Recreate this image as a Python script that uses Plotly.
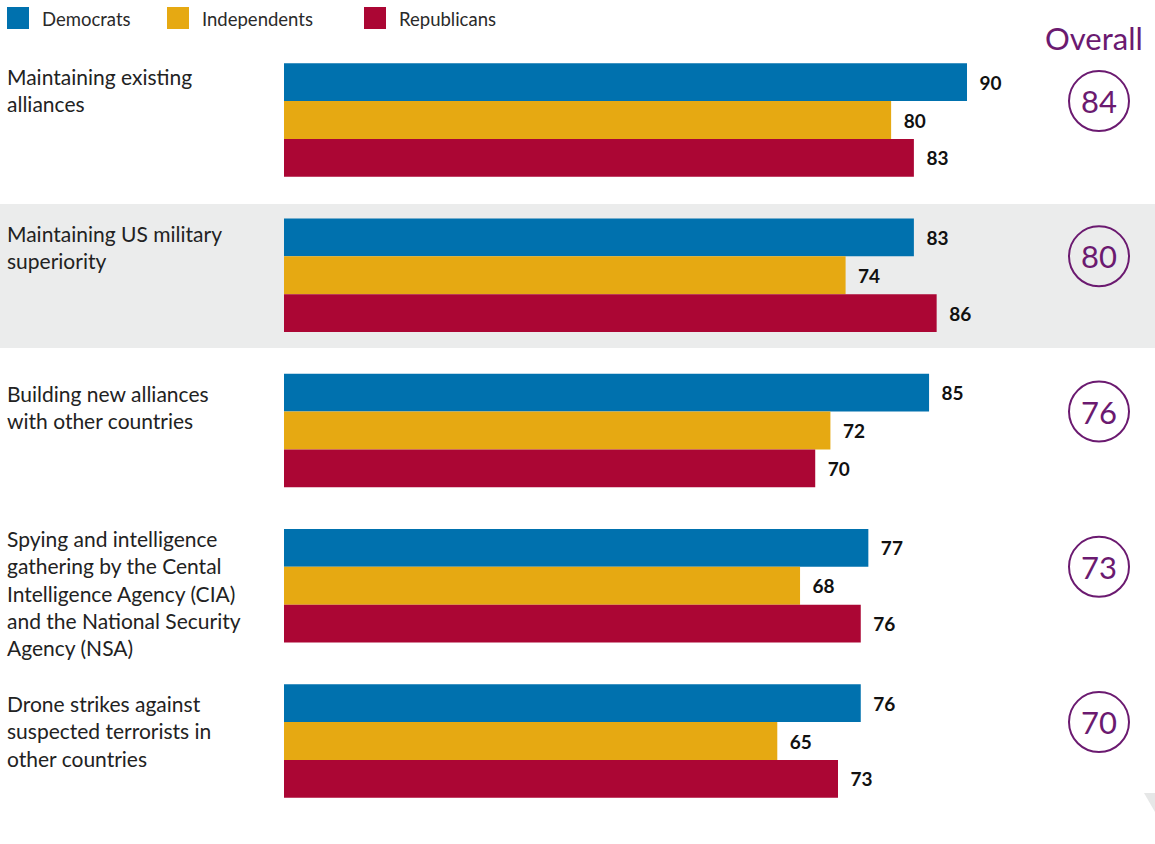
import plotly.graph_objects as go

categories = [
    "Maintaining existing<br>alliances",
    "Maintaining US military<br>superiority",
    "Building new alliances<br>with other countries",
    "Spying and intelligence<br>gathering by the Cental<br>Intelligence Agency (CIA)<br>and the National Security<br>Agency (NSA)",
    "Drone strikes against<br>suspected terrorists in<br>other countries",
]
democrats = [90, 83, 85, 77, 76]
independents = [80, 74, 72, 68, 65]
republicans = [83, 86, 70, 76, 73]
overall = [84, 80, 76, 73, 70]
series_names = ["Democrats", "Independents", "Republicans"]
colors = ["#0071AE", "#E6A912", "#AB0634"]
purple = "#6B1A70"

W, H = 1155, 844
L = 284
PW = W - L
XMAX = PW / 7.589
GAP = 155.25
C0 = 120
ymin = -C0 / GAP
ymax = (H - C0) / GAP


def px(x):
    return (x - L) / PW


def py(y):
    return 1 - y / H


fig = go.Figure()
idx = list(range(len(categories)))
for name, vals, col in zip(series_names, [democrats, independents, republicans], colors):
    fig.add_trace(go.Bar(
        y=idx, x=vals, name=name, orientation="h",
        marker=dict(color=col, line=dict(width=0)),
        text=vals, texttemplate="\u2002%{x}", textposition="outside", cliponaxis=False,
        textfont=dict(family="Lato", size=19, color="#111111", weight="bold"),
        hoverinfo="x+name",
    ))

shapes = []
annotations = []

# grey band behind the second row
shapes.append(dict(type="rect", xref="paper", yref="y", x0=px(0), x1=1,
                   y0=(204 - C0) / GAP, y1=(348 - C0) / GAP,
                   fillcolor="#EBECEC", line=dict(width=0), layer="below"))

# small decorative triangle bottom right
shapes.append(dict(type="path", xref="paper", yref="paper",
                   path=f"M {px(1144)} {py(793)} L {px(1155)} {py(793)} L {px(1155)} {py(812)} Z",
                   fillcolor="#E6E7E7", line=dict(width=0), layer="below"))

label_shift = [0, -1, -6, 4, -6]
half = (1 - 0.27) / 2
for i, (cat, sh) in enumerate(zip(categories, label_shift)):
    annotations.append(dict(xref="paper", yref="y", x=px(5), y=i - half, yshift=sh + 1,
                            xanchor="left", yanchor="top", align="left", showarrow=False,
                            text=cat, font=dict(family="Lato", size=21, color="#222222")))
    cy = i - half / 3
    shapes.append(dict(type="circle", xref="paper", yref="y", xsizemode="pixel", ysizemode="pixel",
                       xanchor=px(1099), yanchor=cy, x0=-30, x1=30, y0=-30, y1=30,
                       line=dict(color=purple, width=2), fillcolor="rgba(0,0,0,0)"))
    annotations.append(dict(xref="paper", yref="y", x=px(1099), y=cy, showarrow=False,
                            xanchor="center", yanchor="middle", text=str(overall[i]),
                            font=dict(family="Lato", size=31, color=purple)))

annotations.append(dict(xref="paper", yref="paper", x=px(1094), y=py(38), showarrow=False,
                        xanchor="center", yanchor="middle", text="Overall",
                        font=dict(family="Lato", size=31, color=purple)))

# legend
leg_x = [7, 167, 364]
for name, col, lx in zip(series_names, colors, leg_x):
    shapes.append(dict(type="rect", xref="paper", yref="paper", x0=px(lx), x1=px(lx + 22),
                       y0=py(29), y1=py(7), fillcolor=col, line=dict(width=0)))
    annotations.append(dict(xref="paper", yref="paper", x=px(lx + 33), y=py(19), showarrow=False,
                            xanchor="left", yanchor="middle", text=name,
                            font=dict(family="Lato", size=18.5, color="#2a2a2a")))

fig.update_layout(
    width=W, height=H,
    margin=dict(l=L, r=0, t=0, b=0),
    paper_bgcolor="white", plot_bgcolor="rgba(0,0,0,0)",
    barmode="group", bargap=0.27, bargroupgap=0,
    showlegend=False,
    xaxis=dict(range=[0, XMAX], visible=False, fixedrange=True),
    yaxis=dict(range=[ymax, ymin], visible=False, fixedrange=True),
    shapes=shapes, annotations=annotations,
)

fig.write_html("out.html", config={"displayModeBar": False},
               post_script="document.body.style.margin='0';document.body.style.overflow='hidden';")
